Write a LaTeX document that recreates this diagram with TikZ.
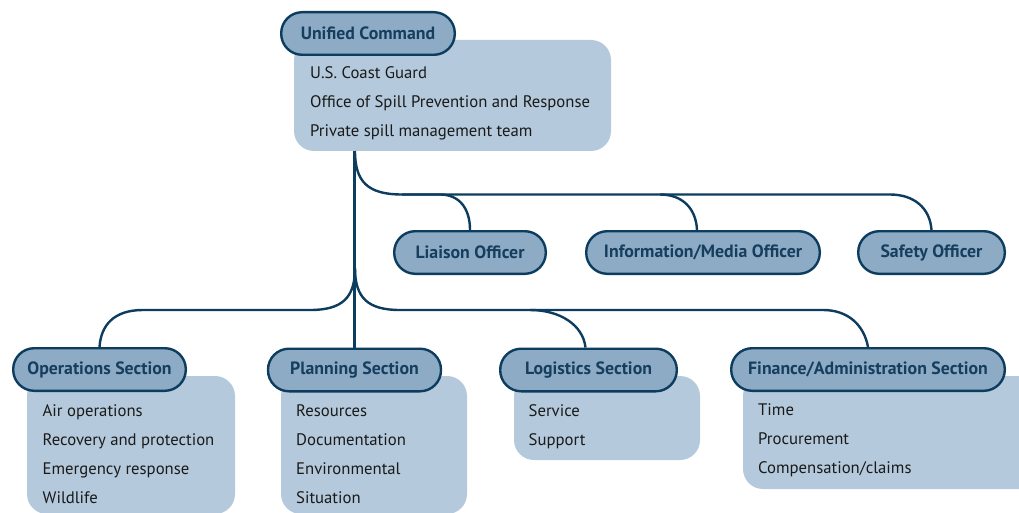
\documentclass[tikz,border=0pt]{standalone}
\usepackage{fontspec}
\setmainfont{PT Sans}
\definecolor{navy}{RGB}{12,60,94}
\definecolor{hdrfill}{RGB}{142,171,197}
\definecolor{panelfill}{RGB}{180,201,219}
\definecolor{hdrtext}{RGB}{22,62,95}
\definecolor{itemtext}{RGB}{26,26,26}
\begin{document}
\begin{tikzpicture}[x=1pt,y=-1pt,
  hdr/.style={draw=navy, line width=2.4pt, fill=hdrfill, rounded corners=21pt,
    minimum height=42.6pt, inner sep=0pt, text=hdrtext,
    font=\bfseries\fontsize{17.8}{20}\selectfont},
  panel/.style={fill=panelfill, rounded corners=20pt, inner sep=0pt},
  items/.style={anchor=base west, align=left, inner sep=0pt, text=itemtext,
    font=\fontsize{16.7}{29}\selectfont},
  conn/.style={draw=navy, line width=2.4pt}
]
\useasboundingbox (0,0) rectangle (1019,513);

% light panels behind the section headers
\node[panel, minimum width=317pt, minimum height=111pt] (ucpanel) at (452.5,95.5) {};
\node[panel, minimum width=208pt, minimum height=138pt] (opspanel) at (131,445) {};
\node[panel, minimum width=186pt, minimum height=138pt] (planpanel) at (374,445) {};
\node[panel, minimum width=186pt, minimum height=84pt] (logipanel) at (607,418) {};
\node[panel, minimum width=300pt, minimum height=113pt] (finpanel) at (893,432.5) {};

% panel contents (anchored at the baseline of the last line)
\node[items] (uclist) at (310,136.5) {U.S. Coast Guard\\Office of Spill Prevention and Response\\Private spill management team};
\node[items] (opslist) at (42.5,503) {Air operations\\Recovery and protection\\Emergency response\\Wildlife};
\node[items] (planlist) at (296,503) {Resources\\Documentation\\Environmental\\Situation};
\node[items] (logilist) at (528.5,445) {Service\\Support};
\node[items] (finlist) at (758,473) {Time\\Procurement\\Compensation/claims};

% connectors
\coordinate (up) at (355,151);
\coordinate (split) at (355,268);
\node[hdr, minimum width=173pt] (plan) at (354.5,370) {Planning Section};
\draw[conn] (ucpanel.south -| plan.north) -- (plan.north);

\node[hdr, minimum width=151.6pt] (liaison) at (470,252.5) {Liaison Officer};
\node[hdr, minimum width=233.6pt] (info) at (703,252.5) {Information/Media Officer};
\node[hdr, minimum width=146.6pt] (safety) at (931.5,252.5) {Safety Officer};

\draw[conn] (up) .. controls (355,182) and (368,194.5) .. (402,194.5) -- (440,194.5)
  .. controls (459,194.5) and (470,208) .. (liaison.north);
\draw[conn] (402,194.5) -- (660,194.5)
  .. controls (682,194.5) and (696,208) .. ([xshift=-6pt]info.north);
\draw[conn] (660,194.5) -- (890,194.5)
  .. controls (914,194.5) and (930,208) .. (safety.north);

\node[hdr, minimum width=172.6pt] (ops) at (99.5,369.5) {Operations Section};
\node[hdr, minimum width=176.6pt] (logi) at (588.5,370) {Logistics Section};
\node[hdr, minimum width=273.6pt] (fin) at (868,369.5) {Finance/Administration Section};
\node[hdr, minimum width=173.6pt] (uc) at (368,33.5) {Unified Command};

\draw[conn] (split) .. controls (355,298) and (342,310) .. (310,310) -- (143,310)
  .. controls (114,310) and (101,325) .. (ops.north);
\draw[conn] (split) .. controls (355,298) and (368,310) .. (400,310) -- (530,310)
  .. controls (560,310) and (583,325) .. ([xshift=-3pt]logi.north);
\draw[conn] (530,310) -- (823,310)
  .. controls (848,310) and (864,325) .. (fin.north);
\end{tikzpicture}
\end{document}
